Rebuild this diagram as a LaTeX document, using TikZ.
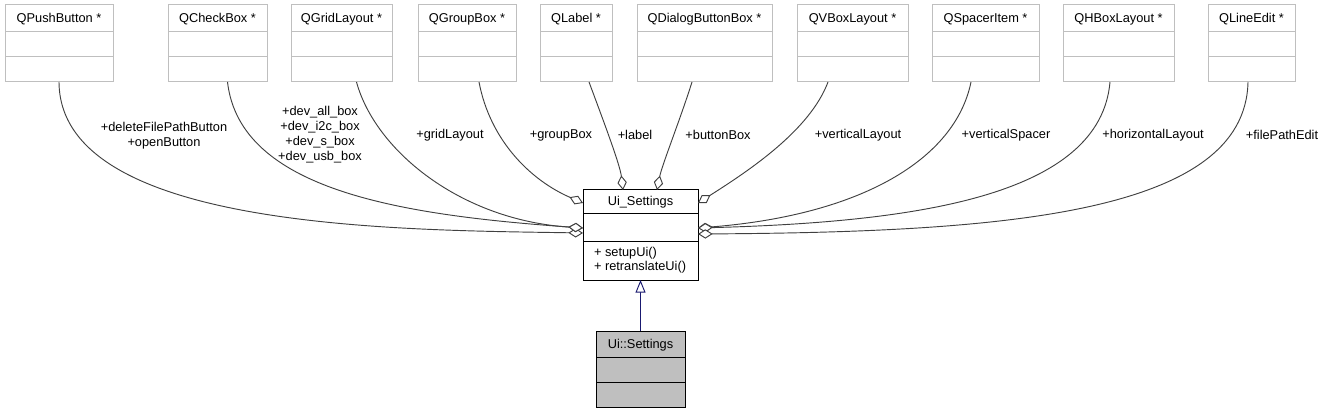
\documentclass[tikz,border=0pt]{standalone}
\usepackage{fontspec}
\setmainfont{Liberation Sans}
\usetikzlibrary{arrows.meta,calc}
\definecolor{edgegray}{HTML}{404040}
\definecolor{boxgray}{HTML}{BFBFBF}
\definecolor{inhblue}{HTML}{191970}
% #1 name, #2 style, #3 left, #4 right, #5 top, #6 div1, #7 div2, #8 bottom, #9 title
\newcommand\umlbox[9]{%
  \node[#2, minimum width={(#4-#3)*0.75pt}, minimum height={(#8-#5)*0.75pt}] (#1) at ({(#3+#4)/2},{(#5+#8)/2}) {};
  \draw[#2line] (#3,#6) -- (#4,#6) (#3,#7) -- (#4,#7);
  \node[ttl] (#1t) at ({(#3+#4)/2},{(#5+#6)/2+4}) {#9};
}
\begin{document}
\begin{tikzpicture}[x=0.75pt,y=-0.75pt,
  txt/.style={font=\fontsize{9.6}{11.25}\selectfont, inner sep=0pt, outer sep=0pt},
  ttl/.style={txt, anchor=base},
  lbl/.style={txt, align=center, anchor=center},
  topbox/.style={draw=boxgray, fill=white, line width=0.75pt, inner sep=0pt, outer sep=0pt},
  topboxline/.style={draw=boxgray, line width=0.75pt},
  mainbox/.style={draw=black, fill=white, line width=0.75pt, inner sep=0pt, outer sep=0pt},
  mainboxline/.style={draw=black, line width=0.75pt},
  subbox/.style={draw=black, fill=boxgray, line width=0.75pt, inner sep=0pt, outer sep=0pt},
  subboxline/.style={draw=black, line width=0.75pt},
  agg/.style={draw=edgegray, line width=0.7pt, -{Diamond[length=11pt,width=7pt,fill=white,line width=0.7pt]}},
  inh/.style={draw=inhblue, line width=0.7pt, -{Triangle[length=9.5pt,width=7.5pt,fill=white,line width=0.7pt]}}
]
\useasboundingbox (0,0) rectangle (1326,413);

% top classes
\umlbox{pb}{topbox}{5}{113}{5}{32}{57}{82}{QPushButton *}
\umlbox{cb}{topbox}{168}{267}{5}{32}{57}{82}{QCheckBox *}
\umlbox{gl}{topbox}{291}{392}{5}{32}{57}{82}{QGridLayout *}
\umlbox{gb}{topbox}{418}{516}{5}{32}{57}{82}{QGroupBox *}
\umlbox{lb}{topbox}{540}{612}{5}{32}{57}{82}{QLabel *}
\umlbox{dbb}{topbox}{637}{772}{5}{32}{57}{82}{QDialogButtonBox *}
\umlbox{vbl}{topbox}{797}{908}{5}{32}{57}{82}{QVBoxLayout *}
\umlbox{si}{topbox}{932}{1039}{5}{32}{57}{82}{QSpacerItem *}
\umlbox{hbl}{topbox}{1063}{1174}{5}{32}{57}{82}{QHBoxLayout *}
\umlbox{le}{topbox}{1208}{1295}{5}{32}{57}{82}{QLineEdit *}

% central class
\umlbox{us}{mainbox}{583}{698}{190}{214}{241}{280}{Ui\_Settings}
\node[txt, align=left, anchor=north west] (usm) at (594,247) {+ setupUi()\\[-0.75pt]+ retranslateUi()};

% derived class
\umlbox{uss}{subbox}{596}{685}{331}{357}{382}{407}{Ui::Settings}

% aggregation connectors
\draw[agg] (pb.south) .. controls (60,230) and (400,230) .. ($(us.west)+(0,-2)$);
\draw[agg] ($(cb.south)+(10,0)$) .. controls (240,190) and (400,215) .. ($(us.west)+(0,-7)$);
\draw[agg] ($(gl.south)+(15,0)$) .. controls (375,150) and (460,220) .. ($(us.west)+(0,-7)$);
\draw[agg] ($(gb.south)+(12,0)$) .. controls (490,140) and (530,180) .. ($(us.west)+(0,-32)$);
\draw[agg] ($(lb.south)+(13,0)$) .. controls (605,125) and (620,165) .. ($(us.north)+(-17.5,0)$);
\draw[agg] ($(dbb.south)+(-12.5,0)$) .. controls (680,120) and (662,165) .. ($(us.north)+(16.5,0)$);
\draw[agg] ($(vbl.south)+(-24.5,0)$) .. controls (810,130) and (750,170) .. ($(us.east)+(0,-32)$);
\draw[agg] ($(si.south)+(-14.5,0)$) .. controls (955,160) and (860,215) .. ($(us.east)+(0,-7)$);
\draw[agg] ($(hbl.south)+(-8.5,0)$) .. controls (1100,195) and (920,222) .. ($(us.east)+(0,-7)$);
\draw[agg] ($(le.south)+(-3.5,0)$) .. controls (1245,215) and (1000,232) .. ($(us.east)+(0,-1)$);

% inheritance
\draw[inh] (uss.north) -- (us.south);

% edge labels
\node[lbl] (l1) at (164,135.5) {+deleteFilePathButton\\+openButton};
\node[lbl] (l2) at (320,135) {+dev\_all\_box\\+dev\_i2c\_box\\+dev\_s\_box\\+dev\_usb\_box};
\node[lbl] (l3) at (450,135) {+gridLayout};
\node[lbl] (l4) at (561,135) {+groupBox};
\node[lbl] (l5) at (635,135) {+label};
\node[lbl] (l6) at (718,135) {+buttonBox};
\node[lbl] (l7) at (858,135) {+verticalLayout};
\node[lbl] (l8) at (1006,135) {+verticalSpacer};
\node[lbl] (l9) at (1153,135) {+horizontalLayout};
\node[lbl] (l10) at (1282,135) {+filePathEdit};
\end{tikzpicture}
\end{document}
